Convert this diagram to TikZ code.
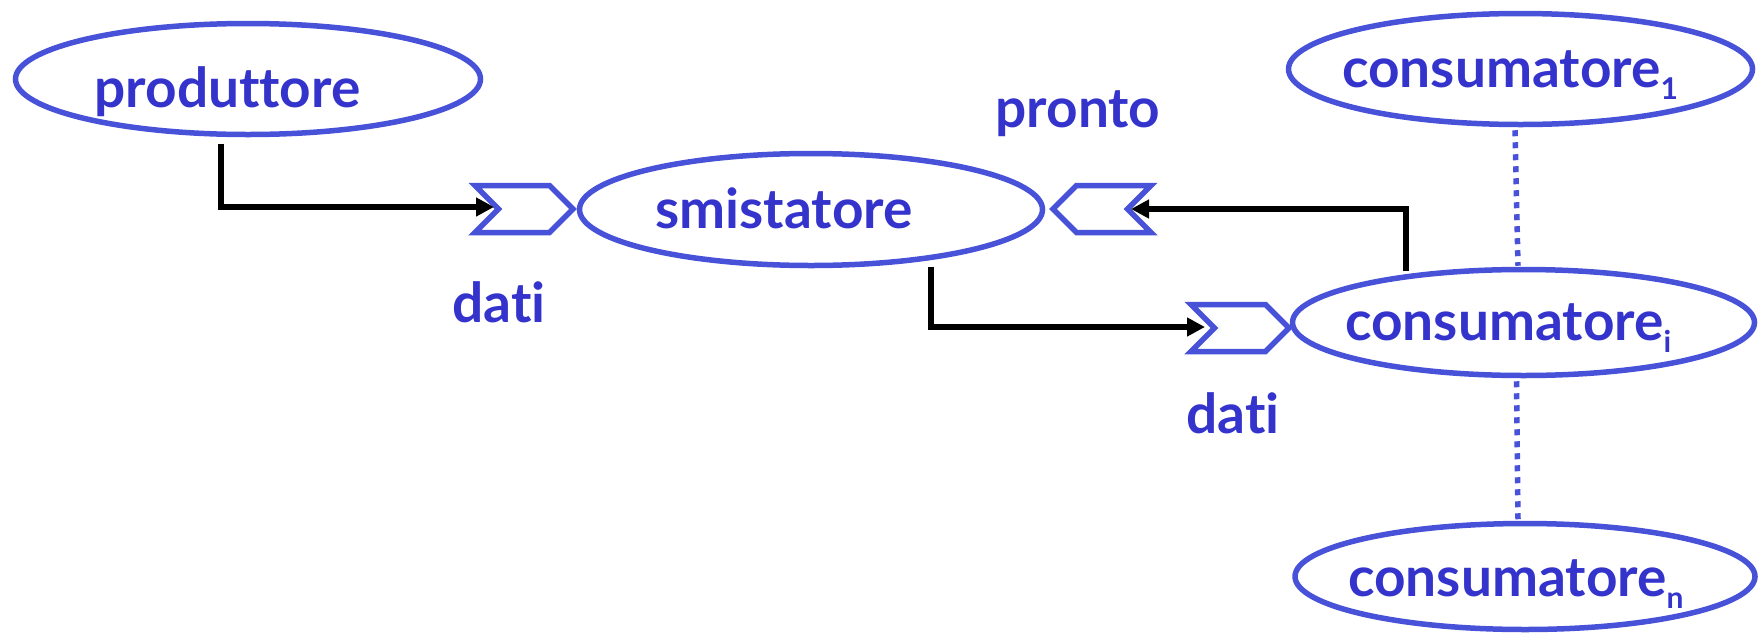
\documentclass[tikz,border=0pt]{standalone}
\usepackage{fontspec}
\setmainfont{Lato}[Ligatures=NoCommon]
\usetikzlibrary{shapes.geometric,shapes.symbols,arrows.meta}
\definecolor{procline}{RGB}{72,82,216}
\definecolor{proctext}{RGB}{52,52,204}
\newcommand\idx[1]{\raisebox{-12pt}{\fontsize{30}{30}\selectfont #1}}

\begin{document}
\begin{tikzpicture}[x=1pt,y=-1pt,
  proc/.style={ellipse, draw=procline, line width=5.5pt, inner sep=0pt},
  port/.style={signal, draw=procline, line width=5.5pt, inner sep=0pt,
    minimum width=98pt, minimum height=47pt},
  lbl/.style={text=proctext, inner sep=0pt,
    font=\fontsize{55}{64}\selectfont\bfseries},
  conn/.style={draw=black, line width=6pt,
    -{Triangle[length=18pt,width=18pt]}},
  chain/.style={draw=procline, line width=5.5pt, dash pattern=on 6pt off 6pt}]
\useasboundingbox (0,0) rectangle (1758,635);

% processes
\node[proc, minimum width=465pt, minimum height=111pt] (prod) at (248,79) {};
\node[proc, minimum width=463pt, minimum height=112pt] (smi) at (811,209.5) {};
\node[proc, minimum width=464pt, minimum height=111pt] (cone) at (1520.5,69) {};
\node[proc, minimum width=462pt, minimum height=106pt] (ci) at (1523.5,322.5) {};
\node[proc, minimum width=460pt, minimum height=106pt] (cn) at (1525,576.5) {};

% ports
\node[port, signal from=west, signal to=east] (pin) at (524,209) {};
\node[port, signal from=east, signal to=west] (pready) at (1102,209) {};
\node[port, signal from=west, signal to=east] (pout) at (1240,328) {};

\coordinate (pinnotch) at ([xshift=-30pt,yshift=2pt]pin.center);
\coordinate (preadynotch) at ([xshift=29pt]pready.center);
\coordinate (poutnotch) at ([xshift=-35pt,yshift=1pt]pout.center);

% texts
\node[lbl, anchor=base] (tprod) at (227.5,107) {produttore};
\node[lbl, anchor=base] (tsmi) at (784,228) {smistatore};
\node[lbl, anchor=base] (tready) at (1078,127) {pronto};
\node[lbl, anchor=base] (tdin) at (499,322) {dati};
\node[lbl, anchor=base] (tdout) at (1233,433) {dati};
\node[lbl, anchor=base west] (tcone) at (1342,87) {consumatore\idx{1}};
\node[lbl, anchor=base west] (tci) at (1345,340) {consumatore\idx{i}};
\node[lbl, anchor=base west] (tcn) at (1348,596) {consumatore\idx{n}};

% message flows
\draw[conn] ([xshift=-27pt,yshift=-6.5pt]prod.south) |- (pinnotch);
\draw[conn] ([xshift=120pt,yshift=1.5pt]smi.south) |- (poutnotch);
\draw[conn] ([xshift=-117.5pt,yshift=-4.5pt]ci.north) |- (preadynotch);

% further consumers
\draw[chain] ([xshift=-5.5pt,yshift=-3pt]cone.south) -- ([xshift=-5.5pt,yshift=1pt]ci.north);
\draw[chain] ([xshift=-7pt,yshift=-3pt]ci.south) -- ([xshift=-7pt,yshift=1pt]cn.north);
\end{tikzpicture}
\end{document}
